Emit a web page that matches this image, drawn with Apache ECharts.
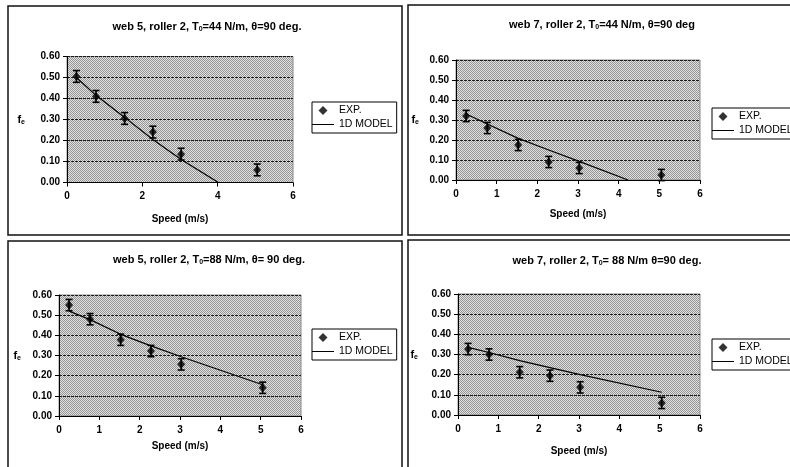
<!DOCTYPE html>
<html>
<head>
<meta charset="utf-8">
<script src="https://cdn.jsdelivr.net/npm/echarts@6/dist/echarts.min.js"></script>
<style>
    html, body { margin: 0; padding: 0; background: #fff; }
    #main { width: 790px; height: 467px; }
</style>
</head>
<body>
<div id="main"></div>
<script>
// 数据
const expSpeed = [0.25, 0.77, 1.53, 2.28, 3.03, 5.05];
const exp1 = [0.505, 0.41, 0.305, 0.24, 0.135, 0.06];
const exp2 = [0.32, 0.26, 0.175, 0.09, 0.06, 0.025];
const exp3 = [0.55, 0.48, 0.378, 0.322, 0.256, 0.14];
const exp4 = [0.327, 0.30, 0.212, 0.195, 0.137, 0.06];
const err1 = [0.028, 0.028, 0.028, 0.028, 0.028, 0.028];
const err2 = [0.028, 0.028, 0.028, 0.028, 0.028, 0.028];
const err3 = [0.028, 0.028, 0.028, 0.028, 0.028, 0.028];
const err4 = [0.028, 0.028, 0.028, 0.028, 0.028, 0.028];

const modelX1 = [0.25, 0.77, 1.53, 2.28, 3.03, 4.02];
const modelY1 = [0.50, 0.415, 0.31, 0.205, 0.11, 0.0];
const modelX2 = [0.25, 0.77, 1.53, 2.28, 3.03, 4.23];
const modelY2 = [0.33, 0.28, 0.208, 0.15, 0.093, 0.0];
const modelX3 = [0.25, 0.77, 1.53, 2.28, 3.03, 5.05];
const modelY3 = [0.52, 0.478, 0.405, 0.348, 0.294, 0.155];
const modelX4 = [0.25, 0.77, 1.53, 2.28, 3.03, 5.05];
const modelY4 = [0.335, 0.31, 0.27, 0.235, 0.20, 0.113];

const titleHead = ['web 5, roller 2, T', 'web 7, roller 2, T', 'web 5, roller 2, T', 'web 7, roller 2, T'];
const titleTail = ['=44 N/m, θ=90 deg.', '=44 N/m, θ=90 deg', '=88 N/m, θ= 90 deg.', '= 88 N/m θ=90 deg.'];
const xIntervals = [2, 1, 1, 1];

function initChart() {
    const chart = echarts.init(document.getElementById('main'));

    // 网点灰底
    const pc = document.createElement('canvas');
    pc.width = 2; pc.height = 2;
    const pctx = pc.getContext('2d');
    pctx.fillStyle = '#e2e2e2';
    pctx.fillRect(0, 0, 2, 2);
    pctx.fillStyle = '#949494';
    pctx.fillRect(0, 0, 1, 1);
    pctx.fillRect(1, 1, 1, 1);
    const dots = { image: pc, repeat: 'repeat' };

    const font = 'Liberation Sans, Arial, sans-serif';
    const exps = [exp1, exp2, exp3, exp4];
    const errs = [err1, err2, err3, err4];
    const mxs = [modelX1, modelX2, modelX3, modelX4];
    const mys = [modelY1, modelY2, modelY3, modelY4];

    // 布局
    const grids = [
        { left: 67, top: 56.5, width: 226, height: 126 },
        { left: 456, top: 60, width: 244, height: 120 },
        { left: 59, top: 295, width: 242, height: 121 },
        { left: 458, top: 294, width: 242, height: 121 }
    ];
    const frames = [
        { x: 8, y: 6, width: 394, height: 229 },
        { x: 408, y: 5, width: 392, height: 230 },
        { x: 8, y: 241, width: 394, height: 240 },
        { x: 408, y: 240, width: 392, height: 240 }
    ];
    const titlePos = [[207, 27], [602, 25], [209, 260], [607, 261]];
    const yNameGap = [42, 37, 38, 40];
    const xNameGap = [32, 29, 25, 31];
    const legendPos = [[312, 102], [712, 108], [312, 329], [712, 339]];

    const xAxes = [], yAxes = [], series = [], legends = [], graphics = [];

    grids.forEach(function (g, i) {
        g.show = true;
        g.backgroundColor = dots;
        g.borderColor = '#8a8a8a';
        g.borderWidth = 1;

        xAxes.push({
            gridIndex: i,
            type: 'value',
            min: 0, max: 6, interval: xIntervals[i],
            name: 'Speed (m/s)',
            nameLocation: 'middle',
            nameGap: xNameGap[i],
            nameTextStyle: { fontFamily: font, fontWeight: 'bold', fontSize: 10, color: '#000' },
            axisLine: { lineStyle: { color: '#000', width: 1 } },
            axisTick: { length: 4, lineStyle: { color: '#000' } },
            axisLabel: { fontFamily: font, fontWeight: 'bold', fontSize: 10, color: '#000', margin: 9 },
            splitLine: { show: false }
        });
        yAxes.push({
            gridIndex: i,
            type: 'value',
            min: 0, max: 0.6, interval: 0.1,
            name: '{a|f}{b|e}',
            nameLocation: 'middle',
            nameRotate: 0,
            nameGap: yNameGap[i],
            nameTextStyle: {
                rich: {
                    a: { fontFamily: font, fontWeight: 'bold', fontSize: 11, color: '#000' },
                    b: { fontFamily: font, fontWeight: 'bold', fontSize: 7, color: '#000', padding: [5, 0, 0, 0] }
                }
            },
            axisLine: { show: true, lineStyle: { color: '#000', width: 1 } },
            axisTick: { show: true, length: 4, lineStyle: { color: '#000' } },
            axisLabel: {
                fontFamily: font, fontWeight: 'bold', fontSize: 10, color: '#000', margin: 7,
                formatter: function (v) { return v.toFixed(2); }
            },
            splitLine: { show: true, lineStyle: { color: '#1a1a1a', width: 1, type: [3, 1] } }
        });

        series.push({
            name: 'EXP.',
            type: 'scatter',
            xAxisIndex: i, yAxisIndex: i,
            symbol: 'diamond',
            symbolSize: [8, 9],
            itemStyle: { color: '#000' },
            z: 4,
            data: expSpeed.map(function (s, k) { return [s, exps[i][k]]; })
        });
        series.push({
            name: 'EXP. err',
            type: 'custom',
            xAxisIndex: i, yAxisIndex: i,
            z: 3,
            renderItem: function (params, api) {
                const top = api.coord([api.value(0), api.value(2)]);
                const bot = api.coord([api.value(0), api.value(1)]);
                const w = 3.5;
                const st = { stroke: '#000', lineWidth: 1.6 };
                return {
                    type: 'group',
                    children: [
                        { type: 'line', shape: { x1: top[0], y1: top[1], x2: bot[0], y2: bot[1] }, style: st },
                        { type: 'line', shape: { x1: top[0] - w, y1: top[1], x2: top[0] + w, y2: top[1] }, style: st },
                        { type: 'line', shape: { x1: bot[0] - w, y1: bot[1], x2: bot[0] + w, y2: bot[1] }, style: st }
                    ]
                };
            },
            data: expSpeed.map(function (s, k) { return [s, exps[i][k] - errs[i][k], exps[i][k] + errs[i][k]]; })
        });
        series.push({
            name: '1D MODEL',
            type: 'line',
            xAxisIndex: i, yAxisIndex: i,
            symbol: 'none',
            z: 5,
            lineStyle: { color: '#000', width: 1.2 },
            itemStyle: { color: '#000' },
            data: mxs[i].map(function (x, k) { return [x, mys[i][k]]; })
        });

        legends.push({
            left: legendPos[i][0],
            top: legendPos[i][1],
            orient: 'vertical',
            data: [
                { name: 'EXP.', icon: 'path://M5,0 L10,5 L5,10 L0,5 Z' },
                { name: '1D MODEL', icon: 'path://M0,0 L44,0 L44,2 L0,2 Z' }
            ],
            backgroundColor: '#fff',
            borderColor: '#000',
            borderWidth: 1,
            padding: [3, 4, 3, 0],
            itemGap: 3,
            itemWidth: 22,
            itemHeight: 9,
            textStyle: { fontFamily: font, fontSize: 10.5, color: '#000' }
        });

        graphics.push({
            type: 'rect',
            shape: frames[i],
            z: 100,
            style: { fill: null, stroke: '#111', lineWidth: 1.5 }
        });
        graphics.push({
            type: 'text',
            x: titlePos[i][0],
            y: titlePos[i][1],
            style: {
                text: '{t|' + titleHead[i] + '}{s|0}{t|' + titleTail[i] + '}',
                align: 'center',
                verticalAlign: 'middle',
                rich: {
                    t: { fontFamily: font, fontWeight: 'bold', fontSize: 11, fill: '#000' },
                    s: { fontFamily: font, fontWeight: 'bold', fontSize: 7, fill: '#000', padding: [5, 0, 0, 0] }
                }
            }
        });
    });

    chart.setOption({
        animation: false,
        backgroundColor: '#fff',
        grid: grids,
        xAxis: xAxes,
        yAxis: yAxes,
        legend: legends,
        series: series,
        graphic: graphics
    });

    window.addEventListener('resize', function () {
        chart.resize();
    });
}

document.addEventListener('DOMContentLoaded', initChart);
</script>
</body>
</html>
